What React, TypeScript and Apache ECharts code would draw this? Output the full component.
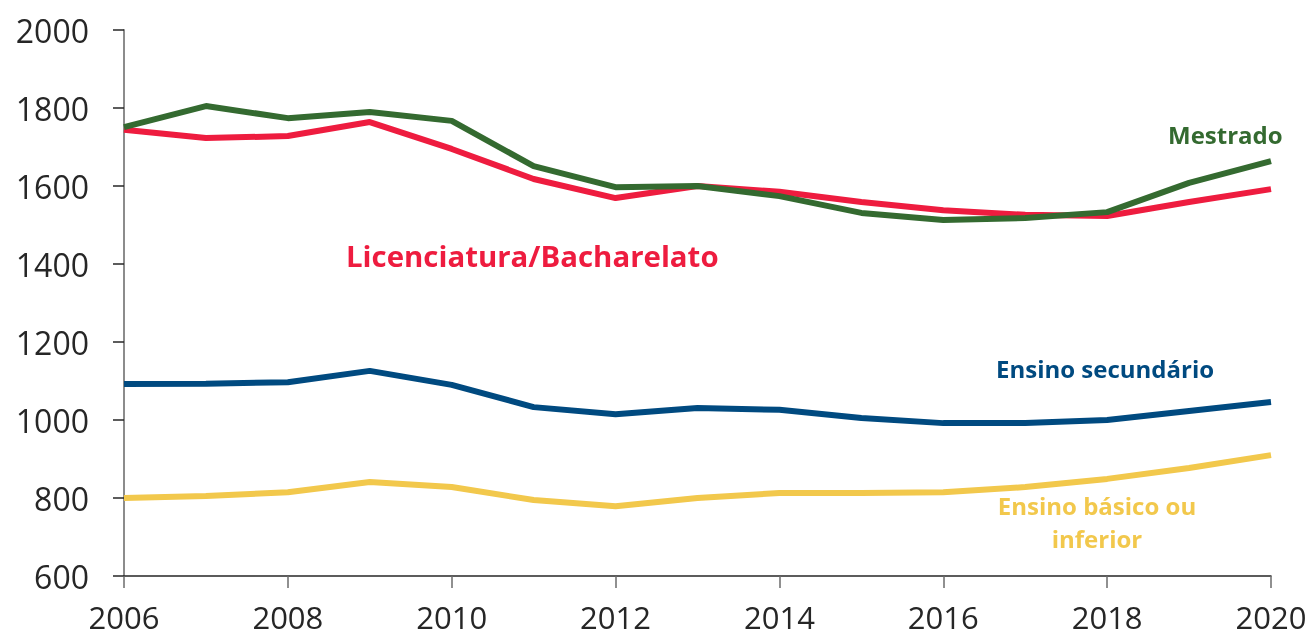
import React, { useEffect, useRef } from "react";
import * as echarts from "echarts";

const years = ["2006","2007","2008","2009","2010","2011","2012","2013","2014","2015","2016","2017","2018","2019","2020"];
const mestrado = [1751, 1805, 1774, 1790, 1767, 1651, 1597, 1600, 1574, 1531, 1513, 1518, 1533, 1608, 1664];
const licenciatura = [1744, 1723, 1728, 1764, 1695, 1618, 1569, 1600, 1585, 1559, 1538, 1526, 1523, 1559, 1592];
const secundario = [1092, 1093, 1097, 1126, 1090, 1033, 1015, 1031, 1026, 1005, 992, 992, 1000, 1023, 1046];
const basico = [800, 805, 815, 841, 828, 795, 779, 800, 813, 813, 815, 828, 849, 877, 910];

const GREEN = "#346a30";
const RED = "#ee1c3f";
const BLUE = "#004a80";
const YELLOW = "#f2c84c";

export default function App() {
  const ref = useRef<HTMLDivElement>(null);
  useEffect(() => {
    const chart = echarts.init(ref.current!, null, { renderer: "svg" });
    const labelFont = "'Open Sans', sans-serif";
    chart.setOption({
      animation: false,
      grid: { left: 124, right: 40, top: 30, bottom: 62, containLabel: false },
      xAxis: {
        type: "category",
        data: years,
        boundaryGap: false,
        axisLine: { lineStyle: { color: "#262626", width: 1.5 } },
        axisTick: { interval: 1, length: 12, lineStyle: { color: "#6b6b6b", width: 1.5 } },
        axisLabel: { interval: 1, margin: 27, fontSize: 31, lineHeight: 28, color: "#262626", fontFamily: labelFont },
        splitLine: { show: false },
      },
      yAxis: {
        type: "value",
        min: 600,
        max: 2000,
        interval: 200,
        axisLine: { show: true, lineStyle: { color: "#8c8c8c", width: 2 } },
        axisTick: { show: true, length: 11, lineStyle: { color: "#262626", width: 1.5 } },
        axisLabel: { margin: 35, fontSize: 32, color: "#262626", fontFamily: labelFont, formatter: (v: number) => String(v) },
        splitLine: { show: false },
      },
      series: [
        { name: "Ensino básico ou inferior", type: "line", data: basico, showSymbol: false, lineStyle: { color: YELLOW, width: 6 }, itemStyle: { color: YELLOW } },
        { name: "Ensino secundário", type: "line", data: secundario, showSymbol: false, lineStyle: { color: BLUE, width: 6 }, itemStyle: { color: BLUE } },
        { name: "Licenciatura/Bacharelato", type: "line", data: licenciatura, showSymbol: false, lineStyle: { color: RED, width: 6 }, itemStyle: { color: RED } },
        { name: "Mestrado", type: "line", data: mestrado, showSymbol: false, lineStyle: { color: GREEN, width: 6 }, itemStyle: { color: GREEN } },
      ],
      graphic: [
        { type: "text", x: 1168, y: 134, style: { text: "Mestrado", fill: GREEN, font: `bold 24px ${labelFont}`, textVerticalAlign: "middle" } },
        { type: "text", x: 346, y: 256, style: { text: "Licenciatura/Bacharelato", fill: RED, font: `bold 29.4px ${labelFont}`, textVerticalAlign: "middle" } },
        { type: "text", x: 996, y: 368, style: { text: "Ensino secundário", fill: BLUE, font: `bold 24px ${labelFont}`, textVerticalAlign: "middle" } },
        { type: "text", x: 1097, y: 505, style: { text: "Ensino básico ou", fill: YELLOW, font: `bold 24px ${labelFont}`, textAlign: "center", textVerticalAlign: "middle" } },
        { type: "text", x: 1097, y: 538, style: { text: "inferior", fill: YELLOW, font: `bold 24px ${labelFont}`, textAlign: "center", textVerticalAlign: "middle" } },
      ],
    });
    return () => chart.dispose();
  }, []);
  return <div ref={ref} style={{ position: "fixed", left: 0, top: 0, width: 1311, height: 638 }} />;
}
